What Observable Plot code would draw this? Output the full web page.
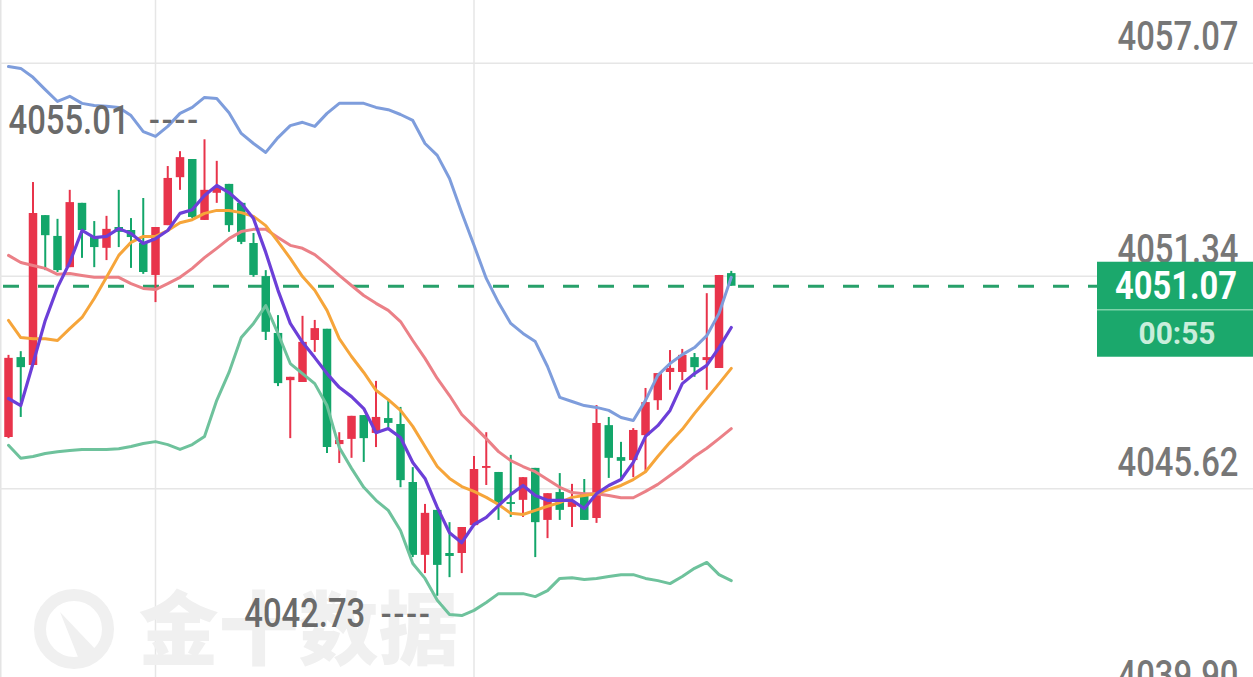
<!DOCTYPE html>
<html><head><meta charset="utf-8">
<script src="https://cdn.jsdelivr.net/npm/d3@7"></script>
<script src="https://cdn.jsdelivr.net/npm/@observablehq/plot@0.6"></script>
<style>
html,body{margin:0;padding:0;background:#fff;overflow:hidden;}
#chart svg{display:block;}
</style></head><body><div id="chart"></div>
<script>
// ---- data ----
const open = [4047.00,4049.15,4048.94,4052.97,4052.41,4051.57,4053.30,4052.38,4052.09,4052.65,
4052.57,4052.22,4051.36,4052.70,4053.99,4054.48,4052.84,4053.57,4053.81,4053.30,
4052.22,4051.33,4049.80,4048.53,4048.48,4049.61,4049.91,4046.81,4046.95,4047.59,
4047.11,4047.51,4047.35,4045.79,4043.83,4045.04,4043.88,4043.88,4044.63,4046.17,
4046.06,4045.25,4045.31,4046.17,4044.77,4045.52,4045.12,4045.49,4044.82,4047.32,
4046.46,4046.38,4047.05,4047.99,4048.75,4048.75,4049.15,4049.07,4048.86,4051.41];
const high = [4049.21,4049.31,4053.86,4052.97,4052.87,4053.65,4053.30,4052.81,4052.95,4053.65,
4052.89,4053.43,4052.65,4054.29,4054.69,4054.48,4055.01,4054.43,4053.81,4053.30,
4052.49,4051.49,4050.28,4048.62,4050.26,4050.15,4049.91,4047.13,4047.57,4047.59,
4048.51,4047.99,4047.81,4046.19,4045.20,4045.04,4044.71,4044.58,4046.49,4047.13,
4046.06,4046.52,4045.92,4046.17,4045.49,4046.03,4045.74,4045.87,4047.86,4047.54,
4046.87,4047.24,4048.32,4048.72,4049.34,4049.37,4049.26,4050.87,4051.36,4051.47];
const low = [4046.97,4047.54,4048.94,4051.49,4051.44,4051.57,4051.82,4051.57,4051.76,4052.11,
4051.55,4051.39,4050.63,4052.70,4053.65,4052.89,4052.84,4053.30,4052.52,4052.19,
4051.31,4049.61,4048.37,4046.97,4048.48,4049.29,4046.57,4046.30,4046.44,4046.33,
4046.73,4047.24,4045.65,4043.77,4043.34,4042.73,4043.23,4043.34,4044.63,4045.71,
4044.77,4044.85,4044.85,4043.77,4044.28,4044.77,4044.58,4044.77,4044.69,4045.90,
4045.90,4045.92,4046.06,4047.73,4048.27,4048.53,4048.62,4048.27,4048.86,4051.07];
const close = [4049.13,4048.88,4053.03,4052.43,4051.49,4053.32,4052.57,4052.11,4052.60,4052.52,
4052.38,4051.44,4052.65,4053.97,4054.53,4052.92,4053.65,4053.70,4052.70,4052.25,
4051.36,4049.83,4048.45,4048.62,4049.56,4049.93,4046.73,4046.92,4047.57,4046.97,
4047.54,4047.38,4045.84,4043.83,4044.96,4043.56,4043.80,4044.58,4046.14,4046.22,
4045.25,4045.20,4045.92,4044.71,4045.49,4045.04,4045.25,4044.77,4047.38,4046.44,
4046.36,4047.19,4047.94,4048.72,4048.86,4049.21,4048.88,4049.15,4051.36,4051.07];
const ma5 = [4048.05,4047.86,4048.99,4050.15,4051.04,4051.71,4052.57,4052.38,4052.41,4052.62,
4052.49,4052.22,4052.35,4052.57,4053.03,4053.13,4053.51,4053.78,4053.59,4053.30,
4052.89,4051.98,4050.96,4050.07,4049.56,4049.15,4048.72,4048.35,4048.10,4047.78,
4047.13,4047.24,4047.00,4046.33,4045.90,4045.12,4044.44,4044.17,4044.66,4044.85,
4045.17,4045.47,4045.71,4045.44,4045.31,4045.31,4045.31,4045.09,4045.49,4045.71,
4045.87,4046.33,4047.03,4047.32,4047.73,4048.45,4048.72,4048.94,4049.42,4049.96];
const ma10 = [4050.15,4049.69,4049.66,4049.66,4049.61,4049.93,4050.23,4050.74,4051.31,4051.90,
4052.25,4052.41,4052.41,4052.57,4052.78,4052.86,4053.03,4053.11,4053.11,4053.05,
4052.95,4052.70,4052.27,4051.82,4051.33,4050.96,4050.42,4049.66,4049.18,4048.75,
4048.27,4048.02,4047.73,4047.30,4046.76,4046.22,4045.90,4045.68,4045.55,4045.39,
4045.20,4044.96,4044.93,4045.04,4045.15,4045.25,4045.39,4045.44,4045.49,4045.60,
4045.71,4045.87,4046.08,4046.49,4046.87,4047.22,4047.65,4048.05,4048.45,4048.86];
const bollMid = [4051.90,4051.71,4051.63,4051.55,4051.39,4051.41,4051.36,4051.31,4051.31,4051.31,
4051.14,4051.01,4050.98,4051.14,4051.31,4051.55,4051.84,4052.09,4052.35,4052.54,
4052.60,4052.60,4052.38,4052.17,4052.09,4051.92,4051.65,4051.36,4051.09,4050.82,
4050.61,4050.42,4050.12,4049.61,4049.13,4048.59,4048.13,4047.62,4047.30,4046.97,
4046.62,4046.38,4046.22,4046.08,4045.87,4045.66,4045.52,4045.49,4045.49,4045.44,
4045.38,4045.38,4045.55,4045.74,4045.98,4046.22,4046.49,4046.71,4046.97,4047.24];
const bollUp = [4056.98,4056.93,4056.69,4056.36,4056.04,4056.18,4055.99,4055.93,4055.91,4055.88,
4055.66,4055.23,4055.10,4055.37,4055.72,4055.88,4056.15,4056.12,4055.74,4055.18,
4054.91,4054.67,4055.07,4055.39,4055.48,4055.37,4055.72,4055.99,4055.99,4055.99,
4055.88,4055.82,4055.69,4055.53,4054.91,4054.59,4053.97,4053.05,4052.17,4051.28,
4050.63,4050.07,4049.80,4049.58,4048.91,4048.08,4047.97,4047.86,4047.81,4047.73,
4047.54,4047.46,4048.00,4048.67,4048.99,4049.23,4049.42,4049.74,4050.34,4051.31];
const bollDn = [4046.79,4046.44,4046.49,4046.57,4046.62,4046.65,4046.68,4046.68,4046.68,4046.70,
4046.76,4046.84,4046.89,4046.81,4046.68,4046.81,4047.03,4048.00,4048.75,4049.69,
4050.07,4050.55,4049.80,4048.99,4048.72,4048.45,4047.86,4046.73,4046.17,4045.66,
4045.31,4045.04,4044.50,4043.61,4043.21,4042.62,4042.24,4042.21,4042.35,4042.56,
4042.80,4042.80,4042.80,4042.72,4042.88,4043.21,4043.23,4043.18,4043.21,4043.26,
4043.31,4043.31,4043.21,4043.15,4043.07,4043.26,4043.48,4043.64,4043.31,4043.15];
const yTicks = [4057.07, 4051.34, 4045.62, 4039.90];
const gridBars = [13, 39];
const lastPrice = 4051.07;
const countdown = "00:55";
const watermark = "金十数据";

// ---- build table ----
const bars = open.map((o, k) => ({
  i: k + 1, open: o, high: high[k], low: low[k], close: close[k],
  up: close[k] >= o, ma5: ma5[k], ma10: ma10[k], mid: bollMid[k], upper: bollUp[k], lower: bollDn[k]
}));
const hiBar = bars.reduce((a, b) => b.high > a.high ? b : a);
const loBar = bars.reduce((a, b) => b.low < a.low ? b : a);

const RED = "#E8344B", GREEN = "#13A66A", BOX = "#1BA86C";
const FONT = 'Roboto,"Liberation Sans",sans-serif';
const candleColor = d => d.up ? RED : GREEN;

const chart = Plot.plot({
  width: 1253, height: 677, margin: 0,
  x: {type: "linear", domain: [0.3469, 102.63], axis: null},
  y: {domain: [4040.544, 4058.757], axis: null},
  style: {background: "#fff", fontFamily: FONT},
  marks: [
    Plot.frame({anchor: "left", stroke: "#e4e4e4", strokeWidth: 2}),
    Plot.ruleY(yTicks, {stroke: "#e6e6e6", strokeWidth: 1.5}),
    Plot.ruleX(gridBars, {stroke: "#e6e6e6", strokeWidth: 1.5}),
    Plot.text([watermark], {frameAnchor: "bottom-left", textAnchor: "start", dx: 138, dy: -20,
      fontSize: 80, fontWeight: 900, fill: "#f0f0f0", fontFamily: '"Noto Sans CJK SC",sans-serif'}),
    Plot.ruleY([lastPrice], {stroke: "#27A06A", strokeWidth: 3, strokeDasharray: "16,19", strokeDashoffset: -3}),
    Plot.ruleX(bars, {x: "i", y1: "low", y2: "high", stroke: candleColor, strokeWidth: 2}),
    Plot.ruleX(bars, {x: "i", y1: "open", y2: "close", stroke: candleColor, strokeWidth: 8.5}),
    Plot.line(bars, {x: "i", y: "upper", stroke: "#7E9DDC", strokeWidth: 3}),
    Plot.line(bars, {x: "i", y: "lower", stroke: "#6EC29C", strokeWidth: 3}),
    Plot.line(bars, {x: "i", y: "mid", stroke: "#EB8087", strokeWidth: 3}),
    Plot.line(bars, {x: "i", y: "ma10", stroke: "#F6A53A", strokeWidth: 3}),
    Plot.line(bars, {x: "i", y: "ma5", stroke: "#6C3FD8", strokeWidth: 3.2}),
    Plot.text(yTicks, {y: d => d, text: d => d.toFixed(2), frameAnchor: "right", textAnchor: "end",
      dx: -15, dy: -26, fontSize: 41, fontWeight: 500, fill: "#777777"}),
    Plot.text([hiBar], {x: "i", y: "high", text: d => d.high.toFixed(2), textAnchor: "end",
      dx: -75, dy: -19, fontSize: 40, fontWeight: 500, fill: "#6a6a6a"}),
    Plot.text([hiBar], {x: "i", y: "high", text: () => "----", textAnchor: "end",
      dx: -6, dy: -19, fontSize: 30, fontWeight: 700, fill: "#6a6a6a"}),
    Plot.text([loBar], {x: "i", y: "low", text: d => d.low.toFixed(2), textAnchor: "end",
      dx: -72, dy: 18, fontSize: 40, fontWeight: 500, fill: "#6a6a6a"}),
    Plot.text([loBar], {x: "i", y: "low", text: () => "----", textAnchor: "end",
      dx: -7, dy: 18, fontSize: 30, fontWeight: 700, fill: "#6a6a6a"})
  ]
});

// current price box & watermark logo (annotation positioned via the y scale)
const svg = d3.select(chart);
const yc = chart.scale("y").apply(lastPrice);
const g = svg.append("g");
g.append("rect").attr("x", 1097).attr("y", yc - 24).attr("width", 156).attr("height", 95).attr("fill", BOX);
g.append("line").attr("x1", 1097).attr("x2", 1253).attr("y1", yc + 24).attr("y2", yc + 24)
  .attr("stroke", "#7fd3aa").attr("stroke-width", 1.5);
g.append("text").attr("x", 1176).attr("y", yc).attr("text-anchor", "middle").attr("dy", "0.35em")
  .attr("fill", "#ffffff").attr("font-size", 39).attr("font-weight", 700).attr("font-family", FONT)
  .attr("textLength", 122).attr("lengthAdjust", "spacingAndGlyphs").text(lastPrice.toFixed(2));
g.append("text").attr("x", 1177).attr("y", yc + 47).attr("text-anchor", "middle").attr("dy", "0.35em")
  .attr("fill", "#c9eedb").attr("font-size", 32).attr("font-weight", 700).attr("font-family", FONT)
  .attr("textLength", 77).attr("lengthAdjust", "spacingAndGlyphs").text(countdown);

// condense the numeric labels (the reference uses a narrow DIN-like face)
const numLabels = new Set(yTicks.map(d => d.toFixed(2)).concat([hiBar.high.toFixed(2), loBar.low.toFixed(2)]));
svg.selectAll("text").each(function () {
  const t = this.textContent;
  if (numLabels.has(t)) {
    d3.select(this).attr("textLength", 121).attr("lengthAdjust", "spacingAndGlyphs");
  } else if (t === "----") {
    d3.select(this).attr("textLength", 50).attr("lengthAdjust", "spacing");
  }
});

const logo = svg.insert("g", ":nth-child(5)").attr("fill", "none").attr("stroke", "#f0f0f0");
logo.append("circle").attr("cx", 74).attr("cy", 629).attr("r", 34).attr("stroke-width", 12);
logo.append("path").attr("d", "M60,612 L98,652 L80,662 Z").attr("fill", "#f0f0f0").attr("stroke", "none");

document.getElementById("chart").appendChild(chart);
</script></body></html>
